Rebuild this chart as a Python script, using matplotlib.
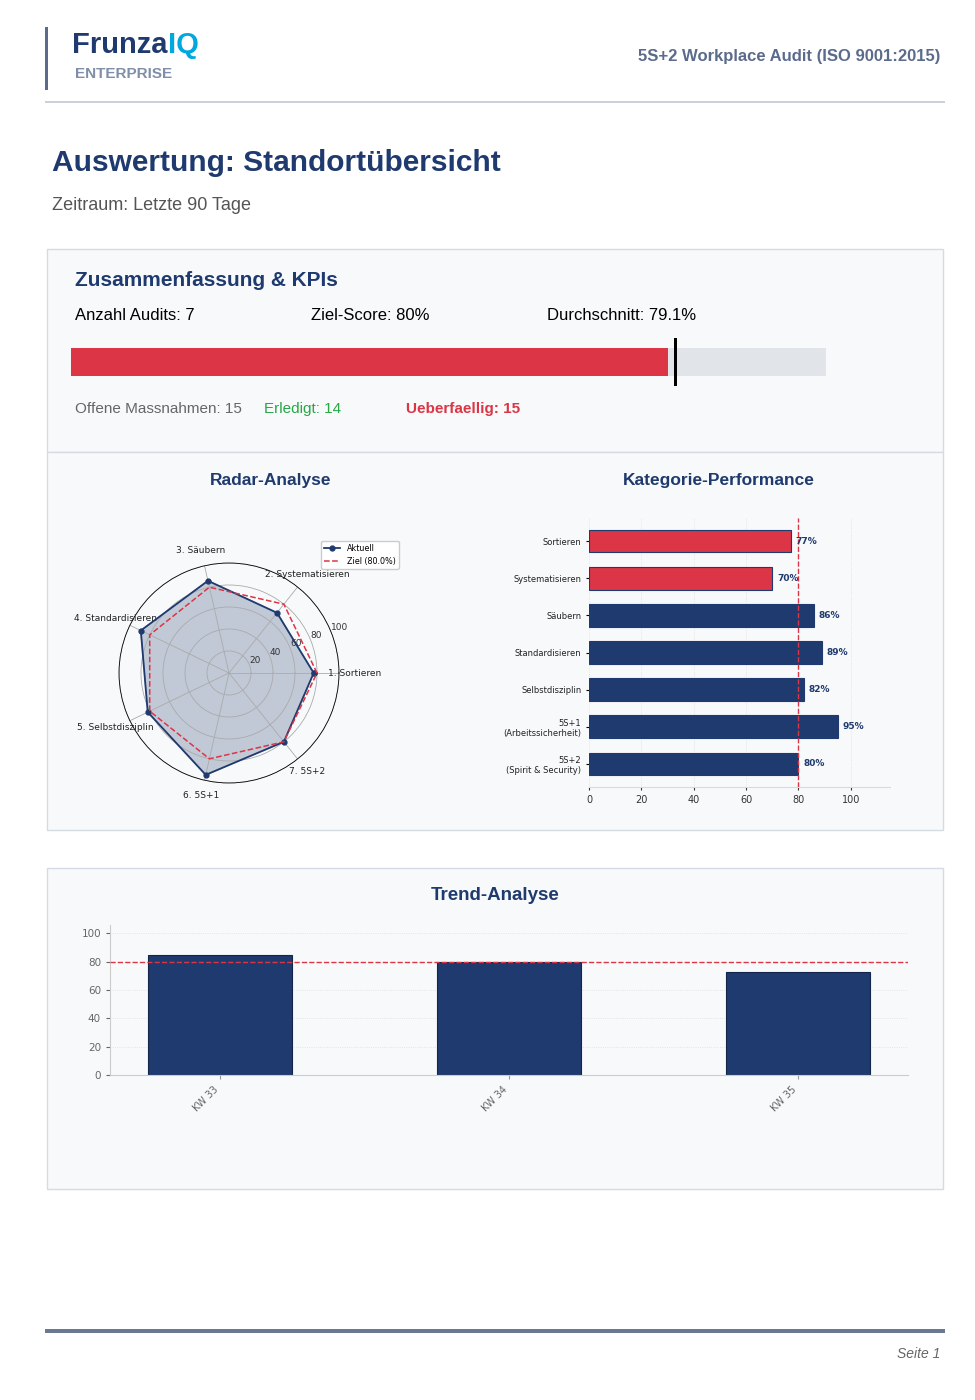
import numpy as np
import matplotlib
matplotlib.use("Agg")
import matplotlib.pyplot as plt
from matplotlib.patches import Rectangle

# ---- data ----
radar_labels = ["1. Sortieren", "2. Systematisieren", "3. Säubern", "4. Standardisieren",
                "5. Selbstdisziplin", "6. 5S+1", "7. 5S+2"]
radar_values = [77, 70, 86, 89, 82, 95, 80]
target = 80.0
bar_labels = ["Sortieren", "Systematisieren", "Säubern", "Standardisieren", "Selbstdisziplin",
              "5S+1\n(Arbeitssicherheit)", "5S+2\n(Spirit & Security)"]
bar_values = [77, 70, 86, 89, 82, 95, 80]
trend_weeks = ["KW 33", "KW 34", "KW 35"]
trend_values = [85, 80, 73]
avg_score = 79.1
n_audits = 7
offen, erledigt, ueber = 15, 14, 15

W, H = 975, 1400
NAVY = "#1f3a6e"
RED = "#dc3545"
FAM = "Liberation Sans"
fig = plt.figure(figsize=(W/100, H/100), dpi=100)
fig.patch.set_facecolor("white")

def px(x, y):
    return x / W, 1 - y / H

def rect(x0, y0, x1, y1, fc, ec="none", lw=1, z=-10):
    fig.patches.append(Rectangle(px(x0, y1), (x1-x0)/W, (y1-y0)/H, transform=fig.transFigure,
                                 facecolor=fc, edgecolor=ec, lw=lw, zorder=z))

def txt(x, y, s, **kw):
    kw.setdefault("family", FAM)
    return fig.text(*px(x, y), s, **kw)

# header
rect(45, 27, 48, 90, "#5b6b8c")
t1 = txt(72, 45, "Frunza", fontsize=21, fontweight="bold", color=NAVY, va="center")
fig.canvas.draw()
bb = t1.get_window_extent()
t2 = txt(0, 45, "IQ", fontsize=21, fontweight="bold", color="#00a8e0", va="center")
t2.set_x(bb.x1 / W)
txt(75, 74, "ENTERPRISE", fontsize=11, fontweight="bold", color="#7f8fa8", va="center")
txt(940, 57, "5S+2 Workplace Audit (ISO 9001:2015)", fontsize=12, fontweight="bold", color="#5b6b8c",
    ha="right", va="center")
rect(45, 101, 945, 103, "#c9d1dc")

txt(52, 163, "Auswertung: Standortübersicht", fontsize=21.5, fontweight="bold", color=NAVY, va="center")
txt(52, 206, "Zeitraum: Letzte 90 Tage", fontsize=13, color="#555555", va="center")

# panels
rect(47, 249, 943, 452, "#f8f9fb", "#d5dbe3")
rect(47, 452, 943, 830, "#f8f9fb", "#d5dbe3")
rect(47, 868, 943, 1189, "#f8f9fb", "#d5dbe3")

txt(75, 281, "Zusammenfassung & KPIs", fontsize=15, fontweight="bold", color=NAVY, va="center")
txt(75, 315, f"Anzahl Audits: {n_audits}", fontsize=12, color="black", va="center")
txt(311, 315, f"Ziel-Score: {target:.0f}%", fontsize=12, color="black", va="center")
txt(547, 315, f"Durchschnitt: {avg_score}%", fontsize=12, color="black", va="center")

bx0, bx1 = 71, 826
rect(bx0, 348, bx1, 376, "#e1e5ea", z=1)
rect(bx0, 348, bx0 + (bx1-bx0)*avg_score/100, 376, RED, z=2)
mx = bx0 + (bx1-bx0)*target/100
rect(mx-1, 338, mx+1.5, 386, "black", z=3)

txt(75, 409, f"Offene Massnahmen: {offen}", fontsize=11, color="#666666", va="center")
txt(264, 409, f"Erledigt: {erledigt}", fontsize=11, color="#28a745", va="center")
txt(406, 409, f"Ueberfaellig: {ueber}", fontsize=11, fontweight="bold", color=RED, va="center")

txt(271, 480, "Radar-Analyse", fontsize=12.5, fontweight="bold", color=NAVY, ha="center", va="center")
txt(719, 480, "Kategorie-Performance", fontsize=12.5, fontweight="bold", color=NAVY, ha="center", va="center")
txt(495, 896, "Trend-Analyse", fontsize=13.5, fontweight="bold", color=NAVY, ha="center", va="center")

# radar
cx, cy, R = 229, 673, 110
axr = fig.add_axes([(cx-R)/W, (H-cy-R)/H, 2*R/W, 2*R/H], projection="polar")
axr.set_facecolor("#f8f9fb")
n = len(radar_values)
ang = np.linspace(0, 2*np.pi, n, endpoint=False)
angc = np.append(ang, ang[0])
vals = np.append(radar_values, radar_values[0])
axr.fill(angc, vals, color=NAVY, alpha=0.25)
axr.plot(angc, vals, color=NAVY, lw=1.3, marker="o", ms=3.5, label="Aktuell")
axr.plot(angc, [target]*(n+1), color=RED, ls="--", lw=1.1, label=f"Ziel ({target}%)")
axr.set_ylim(0, 100)
axr.set_yticks([20, 40, 60, 80, 100])
axr.set_yticklabels(["20", "40", "60", "80", "100"], fontsize=6.5, color="#333333")
axr.set_rlabel_position(22)
axr.set_xticks(ang)
axr.set_xticklabels(radar_labels, fontsize=6.5, color="#222222")
axr.tick_params(axis="x", pad=1)
axr.grid(color="#aaaaaa", lw=0.6)
axr.spines["polar"].set_linewidth(0.6)
axr.legend(loc="upper left", bbox_to_anchor=(0.9, 1.12), fontsize=5.8, frameon=True, framealpha=1)

# bar chart
axb = fig.add_axes([589/W, (H-787)/H, (890-589)/W, (787-518)/H])
axb.set_facecolor("#f8f9fb")
y = np.arange(len(bar_values))
cols = [RED if v < target else NAVY for v in bar_values]
axb.barh(y, bar_values, height=0.6, color=cols, edgecolor=NAVY, lw=0.8, zorder=2)
axb.axvline(target, color=RED, ls="--", lw=1, zorder=3)
for yi, v in zip(y, bar_values):
    axb.text(v + 1.8, yi, f"{v}%", va="center", fontsize=6.5, fontweight="bold", color=NAVY)
axb.set_yticks(y)
axb.set_yticklabels(bar_labels, fontsize=6, color="#222222")
axb.invert_yaxis()
axb.set_xlim(0, 115)
axb.set_xticks([0, 20, 40, 60, 80, 100])
axb.tick_params(axis="x", labelsize=7, colors="#333333", length=2)
axb.tick_params(axis="y", length=2)
axb.grid(axis="x", ls=":", color="#dddddd", lw=0.6, zorder=0)
for s in ["top", "right", "left"]:
    axb.spines[s].set_visible(False)
axb.spines["bottom"].set_color("#d5dbe3")

# trend
axt = fig.add_axes([110/W, (H-1075)/H, (908-110)/W, (1075-925)/H])
axt.set_facecolor("#f8f9fb")
xt = np.arange(len(trend_values))
axt.bar(xt, trend_values, width=0.5, color=NAVY, edgecolor="#14254a", lw=0.8, zorder=2)
axt.axhline(target, color=RED, ls="--", lw=1, zorder=3)
axt.set_xlim(-0.38, 2.38)
axt.set_ylim(0, 106)
axt.set_yticks([0, 20, 40, 60, 80, 100])
axt.set_xticks(xt)
axt.set_xticklabels(trend_weeks, rotation=45, ha="right", fontsize=7, color="#666666")
axt.tick_params(axis="y", labelsize=7.5, colors="#666666", length=3)
axt.tick_params(axis="x", length=3, colors="#999999", labelcolor="#666666")
axt.grid(axis="y", ls=":", color="#dddddd", lw=0.6, zorder=0)
for s in ["top", "right"]:
    axt.spines[s].set_visible(False)
axt.spines["left"].set_color("#cccccd")
axt.spines["bottom"].set_color("#cccccd")

# footer
rect(45, 1329, 945, 1333, "#6b7892")
txt(940, 1354, "Seite 1", fontsize=10, style="italic", color="#666666", ha="right", va="center")

fig.savefig("out.png", dpi=100, facecolor="white")
